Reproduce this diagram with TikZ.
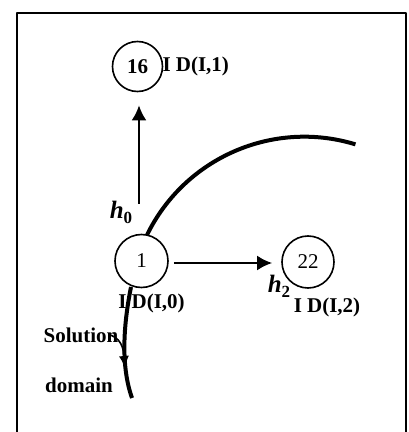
\documentclass[tikz,border=0pt]{standalone}
\usepackage{fontspec}
\setmainfont{Liberation Serif}
\usepackage{tikz}
\usetikzlibrary{arrows.meta,positioning}

\begin{document}
\begin{tikzpicture}[x=1pt,y=1pt,line join=round,
cell/.style={circle,draw,line width=1.6pt,fill=white,inner sep=0pt,font=\fontsize{21}{25}\selectfont},
lbl/.style={inner sep=0pt,font=\fontsize{21}{25}\selectfont\bfseries},
hlbl/.style={inner sep=0pt,font=\fontsize{25}{28}\selectfont\bfseries},
arr/.style={-{Latex[length=15pt,width=15pt]},line width=2.4pt},
edge/.style={line width=4pt},
lead/.style={-{Latex[length=12pt,width=10pt]},line width=1.6pt}]
\useasboundingbox (0,0) rectangle (409,432);
\draw[line width=2.2pt] (17,-5) -- (17,419) -- (406,419) -- (406,-5);
% solution domain boundary
\draw[edge] (147,197) arc[start angle=154,end angle=73,radius=175];
\draw[edge] (131,145) .. controls (123,105) and (121,65) .. (132,34);
\coordinate (tip) at (125,64);
% cells
\node[cell,minimum size=50pt] (c16) at (137.5,365.5) {\textbf{16}};
\node[cell,minimum size=53pt] (c1) at (141.5,171) {1};
\node[cell,minimum size=52pt] (c22) at (308,170) {22};
\node[lbl,right=-1pt of c16] (id1) {I D(I,1)};
\node[lbl,below=5pt of c1,xshift=10pt] (id0) {I D(I,0)};
\node[lbl,below=9pt of c22,xshift=19pt] (id2) {I D(I,2)};
\node[hlbl] (h0) at (121,220) {\textit{h}\raisebox{-5pt}{\fontsize{17}{20}\selectfont 0}};
\node[hlbl] (h2) at (279,146) {\textit{h}\raisebox{-5pt}{\fontsize{17}{20}\selectfont 2}};
\node[lbl] (sol) at (81,97) {Solution};
\node[lbl] (dom) at (79,47) {domain};
% steps
\draw[arr,shorten <=30pt,shorten >=13pt] ([xshift=-2.5pt]c1.north) -- ([xshift=-2.5pt]c1.north |- c16.south);
\draw[arr,shorten <=5pt,shorten >=9pt] ([yshift=-2pt]c1.east) -- ([yshift=-2pt]c1.east -| c22.west);
\draw[lead] ([xshift=-8pt]sol.east) to[out=-20,in=95] (tip);
\end{tikzpicture}
\end{document}
